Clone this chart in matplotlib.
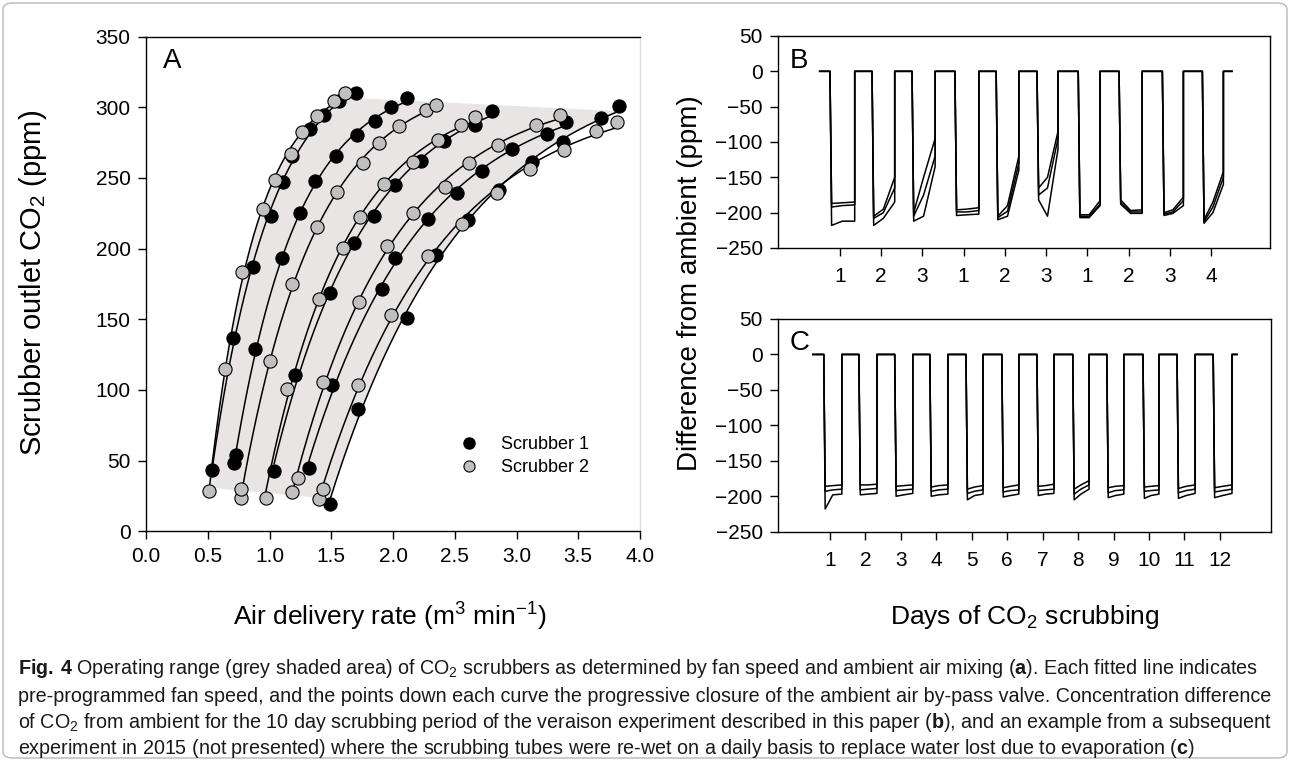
import numpy as np
import matplotlib
matplotlib.use('Agg')
import matplotlib.pyplot as plt
from matplotlib import font_manager
from matplotlib.patches import FancyBboxPatch
from matplotlib.lines import Line2D

# Panel A - scrubber outlet CO2 vs air delivery rate, one list per fan speed curve
s1_x = [[0.538, 0.703, 0.870, 1.014, 1.109, 1.181, 1.330, 1.444, 1.560, 1.703],
        [0.714, 0.727, 0.886, 1.105, 1.243, 1.365, 1.538, 1.709, 1.857, 1.987, 2.113],
        [1.038, 1.203, 1.492, 1.687, 1.843, 2.014, 2.228, 2.411, 2.668, 2.798],
        [1.316, 1.503, 1.908, 2.017, 2.282, 2.520, 2.722, 2.966, 3.244, 3.398],
        [1.492, 1.717, 2.114, 2.352, 2.609, 2.857, 3.128, 3.376, 3.688, 3.831]]
s1_y = [[43.6, 136.9, 186.7, 223.0, 247.2, 265.4, 284.3, 294.4, 304.5, 310.2],
        [48.3, 54.0, 128.9, 193.1, 225.3, 247.5, 265.4, 280.3, 290.4, 299.9, 306.9],
        [42.6, 110.3, 168.7, 204.2, 223.2, 244.7, 262.1, 276.2, 287.8, 297.5],
        [44.8, 103.5, 171.1, 193.1, 221.1, 239.0, 255.0, 270.6, 281.0, 289.7],
        [19.1, 86.5, 150.8, 195.4, 220.2, 241.4, 261.0, 275.1, 292.1, 300.8]]
s2_x = [[0.513, 0.638, 0.776, 0.951, 1.046, 1.176, 1.263, 1.384, 1.519, 1.614],
        [0.773, 0.773, 1.006, 1.182, 1.384, 1.547, 1.757, 1.884, 2.046, 2.267, 2.352],
        [0.968, 1.144, 1.401, 1.594, 1.730, 1.928, 2.163, 2.366, 2.547, 2.663],
        [1.184, 1.227, 1.433, 1.727, 1.949, 2.163, 2.425, 2.619, 2.852, 3.161, 3.349],
        [1.398, 1.433, 1.714, 1.987, 2.283, 2.555, 2.844, 3.109, 3.388, 3.641, 3.817]]
s2_y = [[28.3, 114.8, 183.2, 227.7, 248.4, 266.8, 282.2, 293.9, 304.1, 309.8],
        [23.3, 30.1, 120.4, 174.7, 215.0, 240.2, 260.3, 274.4, 286.6, 298.0, 301.5],
        [23.3, 100.4, 164.5, 200.4, 222.5, 245.4, 261.4, 276.7, 287.8, 293.2],
        [27.6, 37.9, 105.8, 162.4, 202.0, 224.9, 243.7, 260.3, 273.2, 287.8, 294.4],
        [22.6, 29.7, 103.5, 153.0, 194.5, 217.1, 239.7, 256.0, 269.7, 283.3, 289.5]]

# Panel B - 10 day scrubbing period (day of valve closing / opening, ppm at start, middle, end)
b_start, b_end = 0.51, 10.51
b_drop = [0.76, 1.78, 2.75, 3.79, 4.79, 5.78, 6.78, 7.77, 8.82, 9.79]
b_rise = [1.36, 2.33, 3.31, 4.37, 5.34, 6.29, 7.31, 8.33, 9.33, 10.30]
b_trace1 = [(-187, -186, -185), (-205, -195, -150), (-200, -150, -95), (-196, -195, -193),
            (-205, -190, -120), (-165, -150, -85), (-203, -203, -183), (-182, -197, -196),
            (-200, -196, -178), (-210, -185, -142)]
b_trace2 = [(-192, -190, -189), (-208, -200, -165), (-205, -175, -120), (-199, -199, -197),
            (-207, -198, -130), (-175, -165, -95), (-205, -205, -188), (-186, -199, -199),
            (-202, -199, -183), (-213, -192, -150)]
b_trace3 = [(-218, -212, -212), (-218, -208, -185), (-212, -205, -135), (-204, -203, -202),
            (-210, -205, -140), (-182, -205, -110), (-207, -207, -190), (-188, -201, -201),
            (-204, -201, -190), (-215, -200, -160)]
b_ticklabels = ['1', '2', '3', '1', '2', '3', '1', '2', '3', '4']

# Panel C - 2015 experiment, tubes re-wet daily
c_start, c_end = 0.52, 12.48
c_drop = [0.83, 1.82, 2.83, 3.82, 4.84, 5.85, 6.84, 7.85, 8.81, 9.83, 10.79, 11.81]
c_rise = [1.34, 2.33, 3.34, 4.33, 5.32, 6.33, 7.32, 8.31, 9.29, 10.28, 11.30, 12.34]
c_trace1 = [(-186, -185, -184), (-184, -184, -183), (-186, -185, -184), (-187, -185, -184),
            (-190, -187, -185), (-188, -186, -184), (-186, -185, -183), (-190, -184, -178),
            (-188, -186, -185), (-187, -186, -185), (-189, -186, -184), (-188, -186, -184)]
c_trace2 = [(-193, -191, -190), (-191, -190, -189), (-192, -191, -190), (-193, -191, -190),
            (-196, -193, -191), (-194, -192, -191), (-192, -191, -190), (-197, -190, -184),
            (-195, -192, -191), (-193, -192, -191), (-195, -192, -190), (-194, -192, -190)]
c_trace3 = [(-218, -198, -197), (-198, -197, -196), (-200, -198, -196), (-200, -198, -197),
            (-205, -199, -197), (-201, -199, -197), (-199, -197, -196), (-205, -197, -190),
            (-202, -199, -197), (-203, -199, -197), (-203, -199, -196), (-202, -199, -196)]

caption = [
    r"$\bf{Fig.\,4}$ Operating range (grey shaded area) of CO$_2$ scrubbers as determined by fan speed "
    r"and ambient air mixing ($\bf{a}$). Each fitted line indicates",
    "pre-programmed fan speed, and the points down each curve the progressive closure of the ambient "
    "air by-pass valve. Concentration difference",
    r"of CO$_2$ from ambient for the 10 day scrubbing period of the veraison experiment described in "
    r"this paper ($\bf{b}$), and an example from a subsequent",
    "experiment in 2015 (not presented) where the scrubbing tubes were re-wet on a daily basis to "
    r"replace water lost due to evaporation ($\bf{c}$)",
]

W, H = 1290, 761
names = {f.name for f in font_manager.fontManager.ttflist}
cap_font = 'Liberation Sans Narrow' if 'Liberation Sans Narrow' in names else 'Liberation Sans'

plt.rcParams['font.family'] = ['Liberation Sans', 'DejaVu Sans']
plt.rcParams['mathtext.fontset'] = 'custom'
plt.rcParams['mathtext.default'] = 'regular'
plt.rcParams['mathtext.bf'] = cap_font + ':bold'
plt.rcParams['axes.linewidth'] = 1.0


def rect(left, top, right, bottom):
    # pixel box -> figure fraction
    return [left / W, 1 - bottom / H, (right - left) / W, (bottom - top) / H]


def fit_rise(x, y):
    # exponential rise to maximum: y = a - b * exp(-k x), k found by a simple scan
    x = np.asarray(x, float)
    y = np.asarray(y, float)
    best = None
    for k in np.linspace(0.3, 8, 500):
        m = np.column_stack([np.ones_like(x), -np.exp(-k * x)])
        coef = np.linalg.lstsq(m, y, rcond=None)[0]
        err = np.sum((m @ coef - y) ** 2)
        if best is None or err < best[0]:
            best = (err, k, coef)
    k, (a, b) = best[1], best[2]
    return lambda xx: a - b * np.exp(-k * xx)


def square_trace(t0, t1, drops, rises, levels):
    xs, ys = [t0], [0]
    for d, r, (v0, v1, v2) in zip(drops, rises, levels):
        xs += [d, d + 0.04, (d + r) / 2, r, r]
        ys += [0, v0, v1, v2, 0]
    xs.append(t1)
    ys.append(0)
    return xs, ys


fig = plt.figure(figsize=(W / 100, H / 100), dpi=100)

# ---------------- Panel A
axA = fig.add_axes(rect(146, 36.6, 640, 531.3))
fits1 = [fit_rise(x, y) for x, y in zip(s1_x, s1_y)]
fits2 = [fit_rise(x, y) for x, y in zip(s2_x, s2_y)]

# shaded operating range between the outermost curves
left_x = np.linspace(min(s2_x[0]), max(s2_x[0]), 150)
right_x = np.linspace(min(s1_x[-1]), max(s1_x[-1]), 150)
poly_x = np.concatenate([left_x, right_x[::-1]])
poly_y = np.concatenate([fits2[0](left_x), fits1[-1](right_x)[::-1]])
axA.fill(poly_x, poly_y, color='#e9e5e5', lw=0, zorder=0)

for xs, f in zip(s1_x + s2_x, fits1 + fits2):
    xx = np.linspace(min(xs), max(xs), 200)
    axA.plot(xx, f(xx), color='black', lw=1.1, zorder=2)
for xs, ys in zip(s1_x, s1_y):
    axA.plot(xs, ys, 'o', ms=9.5, mfc='black', mec='black', mew=0.8, zorder=3)
for xs, ys in zip(s2_x, s2_y):
    axA.plot(xs, ys, 'o', ms=9.5, mfc='#c0c0c0', mec='black', mew=0.8, zorder=3)

axA.set_xlim(0, 4)
axA.set_ylim(0, 350)
axA.set_xticks(np.arange(0, 4.01, 0.5))
axA.set_xticklabels([f'{v:.1f}' for v in np.arange(0, 4.01, 0.5)])
axA.set_yticks(np.arange(0, 351, 50))
axA.spines['right'].set_color('#dddddd')
axA.tick_params(direction='out', length=6, width=1, labelsize=15, pad=5)
axA.text(0.034, 0.937, 'A', transform=axA.transAxes, fontsize=20, va='baseline')

handles = [Line2D([], [], ls='', marker='o', ms=8, mfc='black', mec='black'),
           Line2D([], [], ls='', marker='o', ms=8, mfc='#c0c0c0', mec='black', mew=0.8)]
axA.legend(handles, ['Scrubber 1', 'Scrubber 2'], loc='upper left', bbox_to_anchor=(0.635, 0.193),
           frameon=False, fontsize=13, handletextpad=1.3, labelspacing=0.35, borderpad=0,
           borderaxespad=0, handlelength=1.0)

# ---------------- Panels B and C
axB = fig.add_axes(rect(778, 36, 1270, 248))
axC = fig.add_axes(rect(778, 319, 1271, 531.7))

for lv in (b_trace1, b_trace2, b_trace3):
    xs, ys = square_trace(b_start, b_end, b_drop, b_rise, lv)
    axB.plot(xs, ys, color='black', lw=1.1)
for lv in (c_trace1, c_trace2, c_trace3):
    xs, ys = square_trace(c_start, c_end, c_drop, c_rise, lv)
    axC.plot(xs, ys, color='black', lw=1.1)

axB.set_xlim(-0.5, 11.43)
axB.set_xticks(range(1, 11))
axB.set_xticklabels(b_ticklabels)
axC.set_xlim(-0.46, 13.44)
axC.set_xticks(range(1, 13))
for ax in (axB, axC):
    ax.set_ylim(-250, 50)
    ax.set_yticks(np.arange(-250, 51, 50))
    ax.tick_params(direction='out', length=6, width=1, labelsize=15, pad=5)
axB.tick_params(axis='x', pad=8)
axC.tick_params(axis='x', pad=8)
axB.text(0.024, 0.849, 'B', transform=axB.transAxes, fontsize=20, va='baseline')
axC.text(0.024, 0.854, 'C', transform=axC.transAxes, fontsize=20, va='baseline')

# ---------------- axis titles
fig.text(33 / W, 1 - 283 / H, 'Scrubber outlet CO$_2$ (ppm)', rotation=90, fontsize=21,
         ha='center', va='center')
fig.text(390 / W, 1 - 617 / H, 'Air delivery rate (m$^3$ min$^{-1}$)', fontsize=19,
         ha='center', va='center')
fig.text(690 / W, 1 - 283 / H, 'Difference from ambient (ppm)', rotation=90, fontsize=20,
         ha='center', va='center')
fig.text(1025 / W, 1 - 617 / H, 'Days of CO$_2$ scrubbing', fontsize=19, ha='center', va='center')

# ---------------- caption
cap_y = [668, 696, 722, 748]
cap_texts = [fig.text(18 / W, 1 - y / H, s, fontsize=13, family=cap_font, color='#1a1a1a',
                      ha='left', va='center') for s, y in zip(caption, cap_y)]
renderer = fig.canvas.get_renderer()
scale = 1247 / cap_texts[1].get_window_extent(renderer).width
for t in cap_texts:
    t.set_fontsize(13 * scale)

fig.patches.append(FancyBboxPatch((3 / W, 3 / H), 1284 / W, 755 / H,
                                  boxstyle='round,pad=0,rounding_size=0.008',
                                  transform=fig.transFigure, fill=False,
                                  edgecolor='#b8b8b8', lw=1.0))

fig.savefig('out.png', dpi=100)
